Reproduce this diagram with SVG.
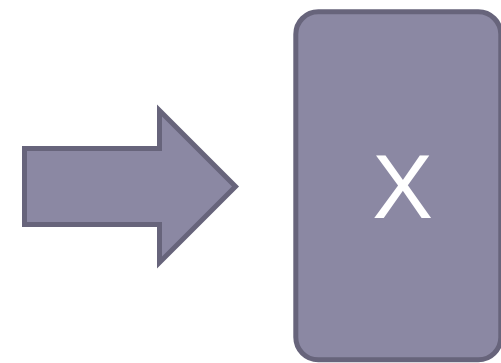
<svg xmlns="http://www.w3.org/2000/svg" width="501" height="363" viewBox="0 0 501 363">
<style>
.shape{fill:#8b88a3;stroke:#67647b;stroke-width:5;stroke-linejoin:miter}
.lbl{font-family:"Liberation Sans",Arial,sans-serif;font-size:91px;fill:#ffffff;text-anchor:middle}
</style>
<rect width="501" height="363" fill="#ffffff"/>
<g id="connectors">
<path id="arrow" class="shape" d="M24.5,148.5 H159.5 V110.5 L235.5,186.5 L159.5,262.5 V224.5 H24.5 Z"/>
</g>
<g id="node-x">
<rect class="shape" x="295.8" y="11.8" width="205" height="348" rx="22.5" ry="22.5"/>
<text class="lbl" x="402.5" y="218.3">X</text>
</g>
</svg>
